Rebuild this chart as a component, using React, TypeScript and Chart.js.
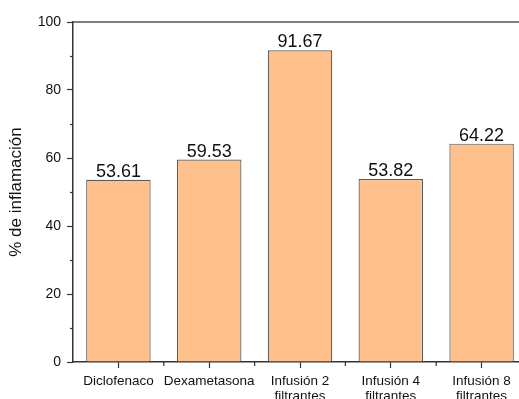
import React, { useEffect, useRef } from "react";
import { Chart, registerables } from "chart.js";

Chart.register(...registerables);

const categories: (string | string[])[] = [
  "Diclofenaco",
  "Dexametasona",
  ["Infusión 2", "filtrantes"],
  ["Infusión 4", "filtrantes"],
  ["Infusión 8", "filtrantes"],
];
const inflammation = [53.61, 59.53, 91.67, 53.82, 64.22];
const yTicks = [0, 20, 40, 60, 80, 100];
const yMinorTicks = [10, 30, 50, 70, 90];

const FONT = "'Liberation Sans', Arial, sans-serif";
const AXIS_COLOR = "#333333";

// Value labels, minor ticks and the top frame line
const decorations = {
  id: "decorations",
  afterDatasetsDraw(chart: any) {
    const ctx = chart.ctx;
    const area = chart.chartArea;
    const x = chart.scales.x;
    const y = chart.scales.y;
    ctx.save();

    // top frame line
    ctx.strokeStyle = "#555555";
    ctx.lineWidth = 1.5;
    ctx.beginPath();
    ctx.moveTo(area.left, area.top);
    ctx.lineTo(area.right + 20, area.top);
    ctx.stroke();

    // minor ticks on y
    ctx.strokeStyle = AXIS_COLOR;
    ctx.lineWidth = 1.2;
    yMinorTicks.forEach((v) => {
      const py = Math.round(y.getPixelForValue(v)) + 0.5;
      ctx.beginPath();
      ctx.moveTo(area.left - 3, py);
      ctx.lineTo(area.left, py);
      ctx.stroke();
    });

    // minor ticks on x, between categories
    for (let i = 0; i < categories.length - 1; i++) {
      const px =
        (x.getPixelForValue(i) + x.getPixelForValue(i + 1)) / 2;
      ctx.beginPath();
      ctx.moveTo(px, area.bottom);
      ctx.lineTo(px, area.bottom + 4);
      ctx.stroke();
    }

    // values above the bars
    const meta = chart.getDatasetMeta(0);
    ctx.fillStyle = "#111111";
    ctx.font = `18px ${FONT}`;
    ctx.textAlign = "center";
    ctx.textBaseline = "alphabetic";
    meta.data.forEach((bar: any, i: number) => {
      ctx.fillText(inflammation[i].toFixed(2), bar.x, bar.y - 3);
    });
    ctx.restore();
  },
};

export default function App() {
  const canvasRef = useRef<HTMLCanvasElement | null>(null);

  useEffect(() => {
    if (!canvasRef.current) return;
    const chart = new Chart(canvasRef.current, {
      type: "bar",
      data: {
        labels: categories as any,
        datasets: [
          {
            data: inflammation,
            backgroundColor: "#FFC08C",
            borderColor: "#5a5a5a",
            borderWidth: 1.2,
            categoryPercentage: 1,
            barPercentage: 0.71,
          },
        ],
      },
      options: {
        animation: false,
        responsive: false,
        maintainAspectRatio: false,
        layout: { padding: { top: 22, right: 13, left: 0, bottom: 0 } },
        plugins: {
          legend: { display: false },
          tooltip: { enabled: false },
        },
        scales: {
          x: {
            offset: true,
            grid: {
              offset: false,
              drawOnChartArea: false,
              drawTicks: true,
              tickLength: 6,
              tickColor: AXIS_COLOR,
              tickWidth: 1.2,
            },
            border: { display: true, color: AXIS_COLOR, width: 1.5 },
            ticks: {
              color: "#111111",
              font: { family: FONT, size: 13.5, lineHeight: 1.12 },
              padding: 6,
              maxRotation: 0,
              autoSkip: false,
            },
            afterFit: (s: any) => {
              s.height = 37;
            },
          },
          y: {
            min: 0,
            max: 100,
            afterBuildTicks: (s: any) => {
              s.ticks = yTicks.map((v) => ({ value: v }));
            },
            grid: {
              drawOnChartArea: false,
              drawTicks: true,
              tickLength: 6,
              tickColor: AXIS_COLOR,
              tickWidth: 1.2,
            },
            border: { display: true, color: AXIS_COLOR, width: 1.5 },
            ticks: {
              color: "#111111",
              font: { family: FONT, size: 14 },
              padding: 6,
            },
            title: {
              display: true,
              text: "% de inflamación",
              color: "#111111",
              font: { family: FONT, size: 17 },
              padding: { top: 6, bottom: 0 },
            },
            afterFit: (s: any) => {
              s.width = 73;
            },
          },
        },
      },
      plugins: [decorations],
    });
    return () => chart.destroy();
  }, []);

  return (
    <div
      style={{
        position: "fixed",
        left: 0,
        top: 0,
        width: 540,
        height: 399,
        background: "#ffffff",
      }}
    >
      <canvas ref={canvasRef} width={540} height={399} />
    </div>
  );
}
